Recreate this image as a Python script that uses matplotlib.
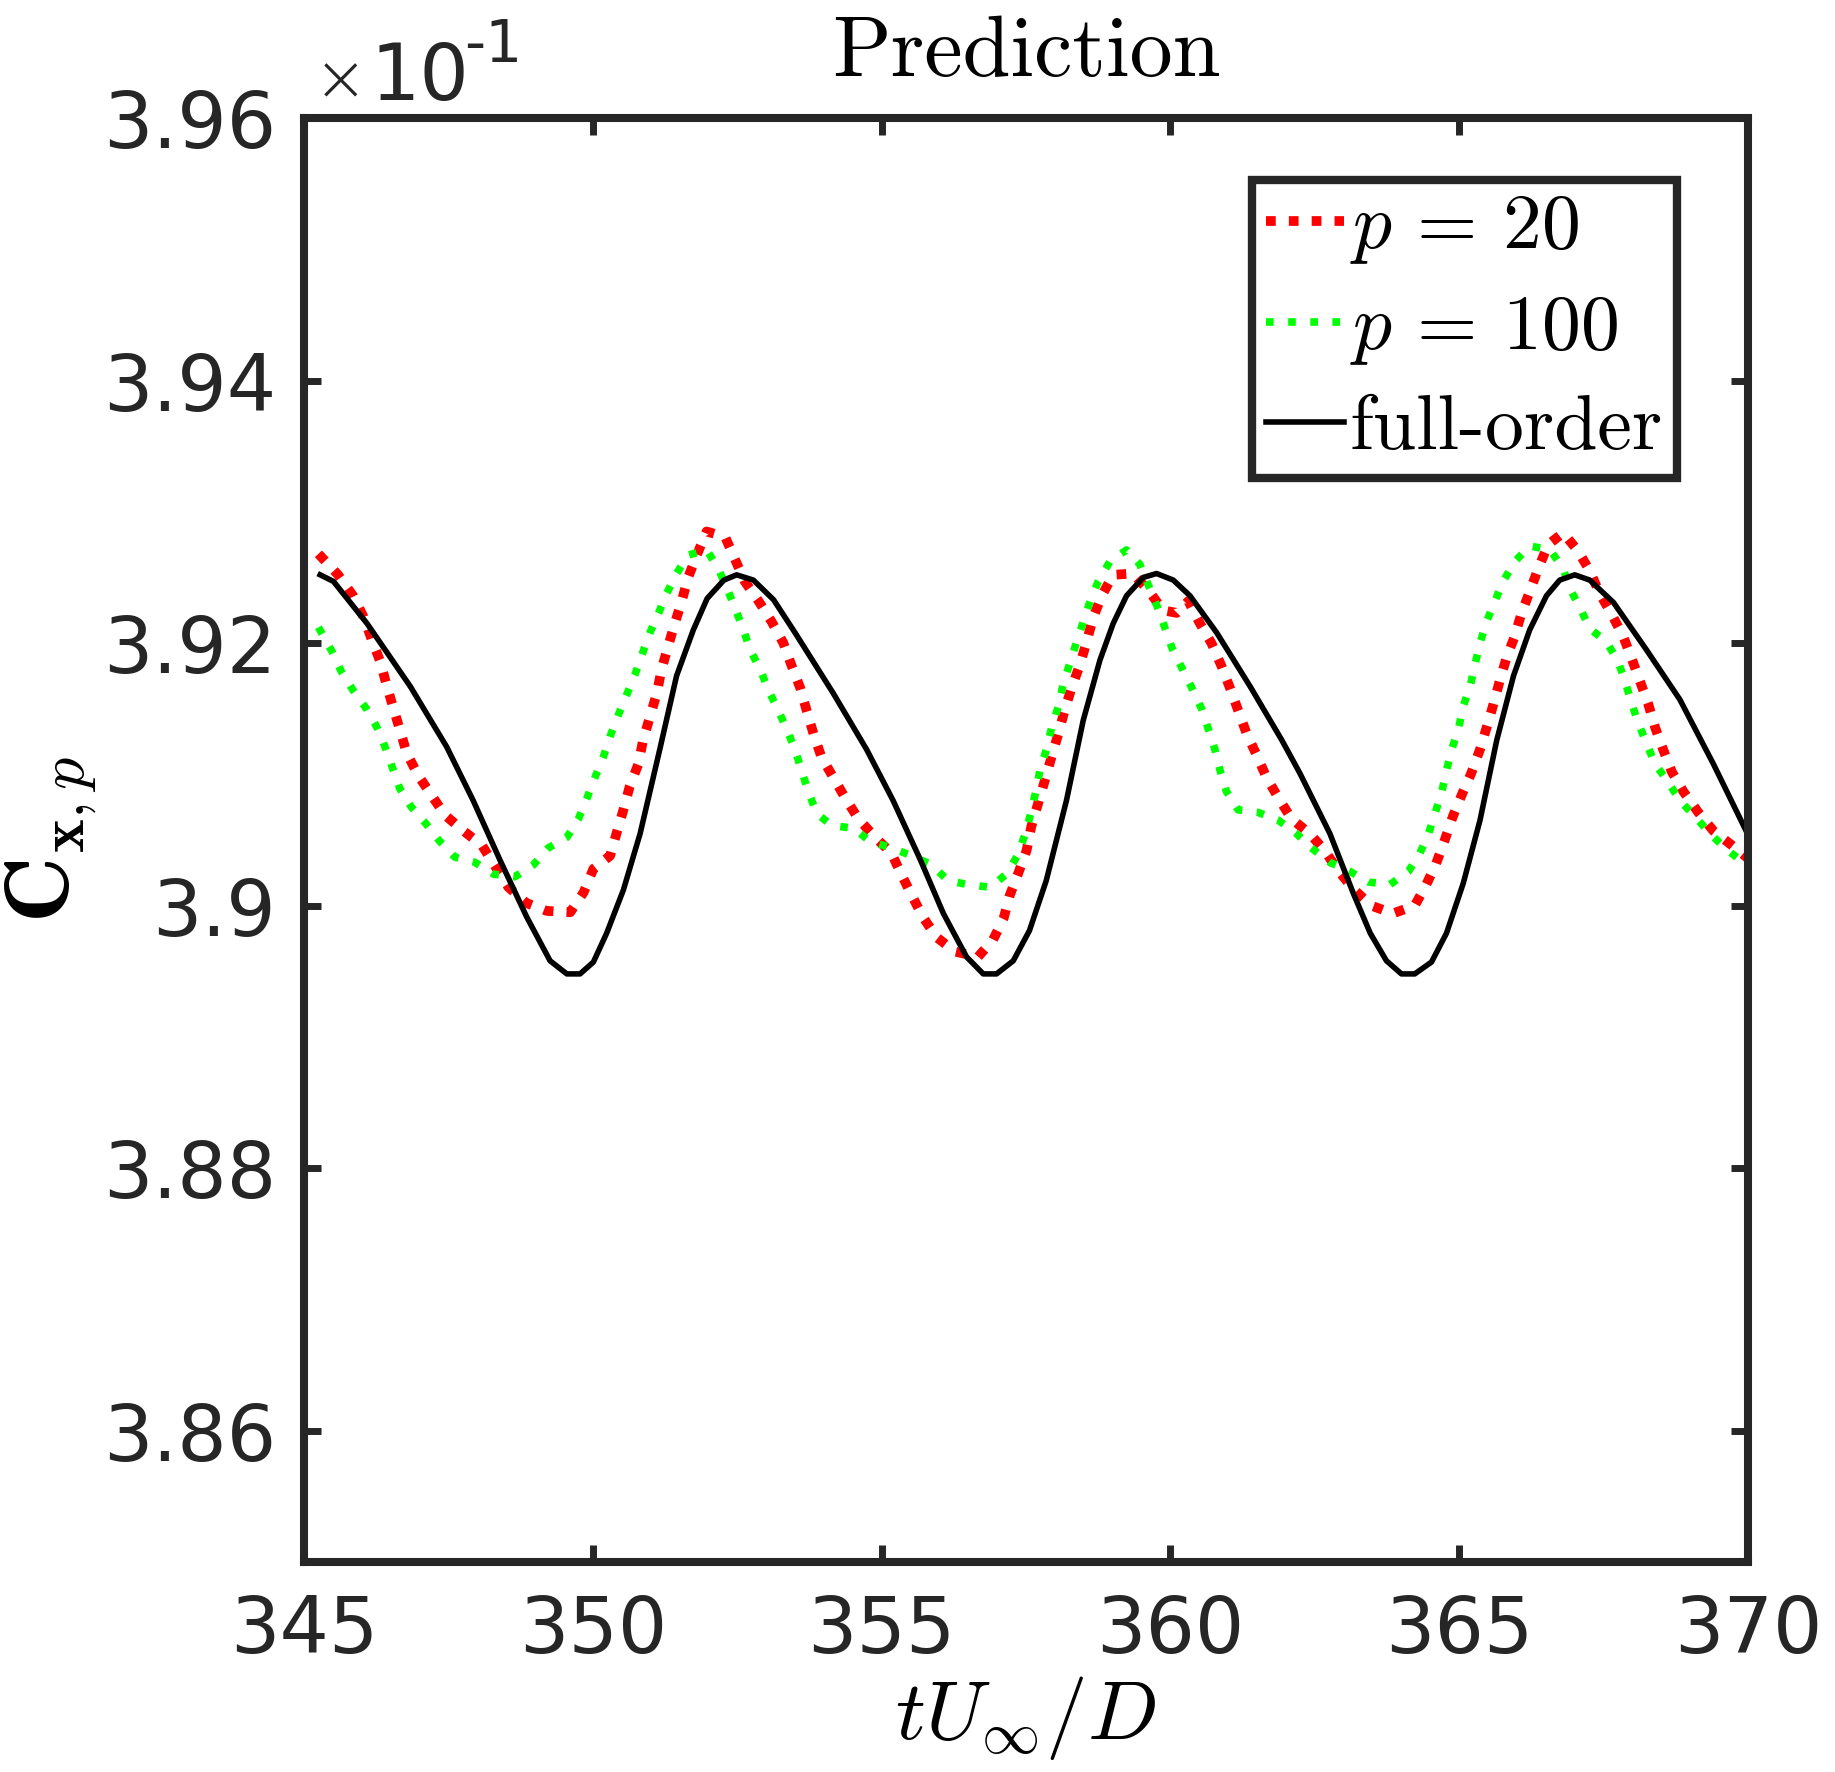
import matplotlib
matplotlib.use("Agg")
import matplotlib.pyplot as plt
from matplotlib.ticker import FuncFormatter

plt.rcParams['mathtext.fontset'] = 'cm'

# C_x,p in units of 1e-1 (axis shows x10^-1)
t_full = [345.28, 345.51, 346.09, 346.84, 347.47, 347.93, 348.39, 348.86, 349.26, 349.55,
          349.78, 350.01, 350.24, 350.53, 350.82, 351.17, 351.45, 351.74, 351.98, 352.27,
          352.49, 352.78, 353.13, 353.50, 354.16, 354.74, 355.20, 355.67, 356.07, 356.47,
          356.76, 356.99, 357.28, 357.56, 357.85, 358.20, 358.49, 358.78, 359.01, 359.24,
          359.53, 359.76, 360.05, 360.34, 360.80, 361.38, 361.93, 362.24, 362.76, 363.17,
          363.46, 363.74, 364.00, 364.23, 364.52, 364.78, 365.07, 365.36, 365.65, 365.94,
          366.22, 366.51, 366.74, 367.00, 367.26, 367.67, 368.24, 368.82, 369.40, 370.00]
c_full = [3.9252, 3.9247, 3.9215, 3.9167, 3.9121, 3.9080, 3.9035, 3.8991, 3.8958, 3.8948,
          3.8948, 3.8957, 3.8979, 3.9012, 3.9055, 3.9121, 3.9175, 3.9210, 3.9234, 3.9248,
          3.9252, 3.9248, 3.9233, 3.9208, 3.9162, 3.9119, 3.9080, 3.9035, 3.8994, 3.8961,
          3.8948, 3.8948, 3.8958, 3.8981, 3.9019, 3.9080, 3.9141, 3.9187, 3.9215, 3.9236,
          3.9250, 3.9253, 3.9248, 3.9236, 3.9208, 3.9167, 3.9126, 3.9101, 3.9055, 3.9009,
          3.8979, 3.8958, 3.8948, 3.8948, 3.8957, 3.8979, 3.9017, 3.9065, 3.9126, 3.9175,
          3.9210, 3.9236, 3.9248, 3.9252, 3.9248, 3.9231, 3.9195, 3.9157, 3.9108, 3.9054]

t_p20 = [345.25, 345.59, 345.85, 346.03, 346.17, 346.32, 346.43, 346.55, 346.66, 346.78,
         346.98, 347.21, 347.44, 347.76, 348.08, 348.28, 348.54, 348.85, 349.20, 349.61,
         349.84, 350.01, 350.30, 350.41, 350.53, 350.64, 350.79, 350.87, 350.99, 351.11,
         351.19, 351.30, 351.42, 351.54, 351.65, 351.80, 351.97, 352.29, 352.46, 352.63,
         352.87, 353.10, 353.30, 353.44, 353.59, 353.70, 353.82, 353.96, 354.16, 354.37,
         354.60, 354.89, 355.17, 355.34, 355.52, 355.72, 355.95, 356.27, 356.67, 356.93,
         357.11, 357.22, 357.36, 357.51, 357.59, 357.71, 357.83, 357.94, 358.06, 358.17,
         358.29, 358.43, 358.55, 358.66, 358.81, 359.01, 359.35, 359.64, 359.87, 360.11,
         360.31, 360.51, 360.71, 360.88, 361.03, 361.17, 361.32, 361.49, 361.66, 361.87,
         362.10, 362.41, 362.67, 362.90, 363.16, 363.48, 363.85, 364.23, 364.43, 364.60,
         364.75, 364.89, 365.04, 365.21, 365.36, 365.47, 365.59, 365.70, 365.82, 365.96,
         366.08, 366.22, 366.37, 366.54, 366.80, 367.06, 367.26, 367.43, 367.64, 367.84,
         367.98, 368.13, 368.27, 368.39, 368.53, 368.68, 368.88, 369.14, 369.40, 369.72,
         370.00]
c_p20 = [3.9268, 3.9252, 3.9236, 3.9220, 3.9203, 3.9186, 3.9168, 3.9150, 3.9134, 3.9116,
         3.9099, 3.9084, 3.9069, 3.9057, 3.9046, 3.9032, 3.9014, 3.9002, 3.8996, 3.8995,
         3.9010, 3.9028, 3.9038, 3.9055, 3.9073, 3.9091, 3.9108, 3.9126, 3.9144, 3.9162,
         3.9180, 3.9197, 3.9215, 3.9232, 3.9250, 3.9267, 3.9285, 3.9281, 3.9264, 3.9247,
         3.9232, 3.9216, 3.9200, 3.9183, 3.9166, 3.9149, 3.9131, 3.9113, 3.9098, 3.9082,
         3.9066, 3.9052, 3.9040, 3.9024, 3.9008, 3.8991, 3.8976, 3.8965, 3.8961, 3.8974,
         3.8990, 3.9008, 3.9024, 3.9042, 3.9060, 3.9078, 3.9096, 3.9113, 3.9131, 3.9149,
         3.9166, 3.9183, 3.9201, 3.9219, 3.9236, 3.9252, 3.9253, 3.9239, 3.9225, 3.9223,
         3.9232, 3.9215, 3.9200, 3.9183, 3.9166, 3.9149, 3.9131, 3.9115, 3.9098, 3.9082,
         3.9066, 3.9055, 3.9042, 3.9027, 3.9013, 3.9000, 3.8994, 3.9000, 3.9016, 3.9032,
         3.9050, 3.9068, 3.9084, 3.9101, 3.9119, 3.9135, 3.9153, 3.9171, 3.9189, 3.9205,
         3.9223, 3.9239, 3.9257, 3.9275, 3.9284, 3.9270, 3.9255, 3.9238, 3.9222, 3.9205,
         3.9189, 3.9171, 3.9154, 3.9136, 3.9119, 3.9102, 3.9087, 3.9071, 3.9057, 3.9046,
         3.9036]

t_p100 = [345.25, 345.48, 345.65, 345.85, 346.08, 346.26, 346.41, 346.53, 346.66, 346.86,
          347.10, 347.35, 347.61, 347.96, 348.28, 348.65, 348.97, 349.23, 349.55, 349.75,
          349.90, 350.04, 350.18, 350.30, 350.44, 350.59, 350.73, 350.85, 350.99, 351.14,
          351.28, 351.45, 351.65, 351.97, 352.17, 352.32, 352.46, 352.61, 352.72, 352.90,
          353.04, 353.21, 353.36, 353.50, 353.62, 353.73, 353.88, 354.14, 354.51, 354.80,
          355.17, 355.52, 355.87, 356.15, 356.50, 356.88, 357.16, 357.35, 357.49, 357.58,
          357.67, 357.74, 357.86, 357.94, 358.06, 358.14, 358.26, 358.37, 358.49, 358.61,
          358.75, 358.95, 359.24, 359.47, 359.63, 359.77, 359.91, 360.03, 360.20, 360.37,
          360.54, 360.66, 360.77, 360.86, 360.97, 361.17, 361.52, 361.87, 362.18, 362.44,
          362.76, 363.11, 363.43, 363.80, 364.12, 364.32, 364.47, 364.58, 364.70, 364.78,
          364.87, 364.99, 365.07, 365.19, 365.27, 365.36, 365.47, 365.62, 365.76, 365.96,
          366.22, 366.57, 366.80, 366.91, 367.09, 367.26, 367.55, 367.75, 367.87, 367.98,
          368.10, 368.24, 368.39, 368.62, 368.82, 369.08, 369.34, 369.60, 369.91, 370.00]
c_p100 = [3.9212, 3.9194, 3.9178, 3.9164, 3.9150, 3.9136, 3.9120, 3.9105, 3.9089, 3.9075,
          3.9063, 3.9049, 3.9037, 3.9033, 3.9024, 3.9022, 3.9031, 3.9044, 3.9052, 3.9066,
          3.9082, 3.9098, 3.9113, 3.9129, 3.9145, 3.9161, 3.9176, 3.9191, 3.9208, 3.9223,
          3.9238, 3.9253, 3.9267, 3.9271, 3.9257, 3.9242, 3.9227, 3.9210, 3.9195, 3.9180,
          3.9164, 3.9149, 3.9134, 3.9119, 3.9102, 3.9087, 3.9070, 3.9061, 3.9059, 3.9049,
          3.9044, 3.9038, 3.9031, 3.9019, 3.9016, 3.9014, 3.9024, 3.9038, 3.9055, 3.9070,
          3.9087, 3.9103, 3.9120, 3.9135, 3.9152, 3.9168, 3.9185, 3.9200, 3.9216, 3.9232,
          3.9247, 3.9262, 3.9271, 3.9260, 3.9243, 3.9228, 3.9211, 3.9196, 3.9181, 3.9166,
          3.9150, 3.9134, 3.9119, 3.9103, 3.9087, 3.9073, 3.9071, 3.9065, 3.9055, 3.9044,
          3.9033, 3.9026, 3.9018, 3.9016, 3.9026, 3.9040, 3.9055, 3.9070, 3.9087, 3.9103,
          3.9119, 3.9135, 3.9152, 3.9167, 3.9183, 3.9200, 3.9216, 3.9232, 3.9247, 3.9262,
          3.9274, 3.9271, 3.9257, 3.9242, 3.9227, 3.9211, 3.9201, 3.9186, 3.9171, 3.9155,
          3.9139, 3.9124, 3.9108, 3.9094, 3.9080, 3.9068, 3.9055, 3.9044, 3.9033, 3.9031]

x_ticks = [345, 350, 355, 360, 365, 370]
y_ticks = [3.86, 3.88, 3.90, 3.92, 3.94, 3.96]

DARK = '#262626'
W, H = 1835, 1772

fig = plt.figure(figsize=(W / 100, H / 100), dpi=100)
ax = fig.add_axes([304 / W, 1 - 1562 / H, (1748 - 304) / W, (1562 - 118) / H])

ax.plot(t_p20, c_p20, color='#ff0000', lw=7, linestyle=(0, (1, 1.35)), label=r'$p\,=\,20$')
ax.plot(t_p100, c_p100, color='#00ff00', lw=5.5, linestyle=(0, (1, 1.9)), label=r'$p\,=\,100$')
ax.plot(t_full, c_full, color='black', lw=4, label='full-order')

ax.set_xlim(345, 370)
ax.set_ylim(3.85, 3.96)
ax.set_xticks(x_ticks)
ax.set_yticks(y_ticks)
ax.yaxis.set_major_formatter(FuncFormatter(lambda v, p: '%g' % round(v, 2)))

for s in ax.spines.values():
    s.set_linewidth(5.8)
    s.set_color(DARK)
ax.tick_params(direction='in', length=12, width=5, colors=DARK, labelsize=56,
               top=True, right=True)
ax.tick_params(axis='y', pad=20)
ax.tick_params(axis='x', pad=22)

ax.set_title('Prediction', fontsize=62, family='cmr10', pad=30)
ax.set_xlabel(r'$tU_\infty/D$', fontsize=60, labelpad=4)
ax.set_ylabel(r'$\mathbf{C}_{\mathbf{x},p}$', fontsize=66)
ax.yaxis.set_label_coords(-0.143, 0.5)

fig.text(314 / W, 1 - 100 / H, '\u00d7', fontsize=46, color=DARK, fontweight='light')
fig.text(370 / W, 1 - 100 / H, '10', fontsize=56, color=DARK)
fig.text(464 / W, 1 - 62 / H, '-1', fontsize=42, color=DARK)

leg = ax.legend(loc='upper right', bbox_to_anchor=(0.951, 0.957),
                prop={'family': 'cmr10', 'size': 56},
                handlelength=1.0, handletextpad=0.08, labelspacing=0.36,
                borderpad=0.18, borderaxespad=0, fancybox=False, framealpha=1)
leg.get_frame().set_edgecolor(DARK)
leg.get_frame().set_linewidth(6)

fig.savefig('out.png', dpi=100)
